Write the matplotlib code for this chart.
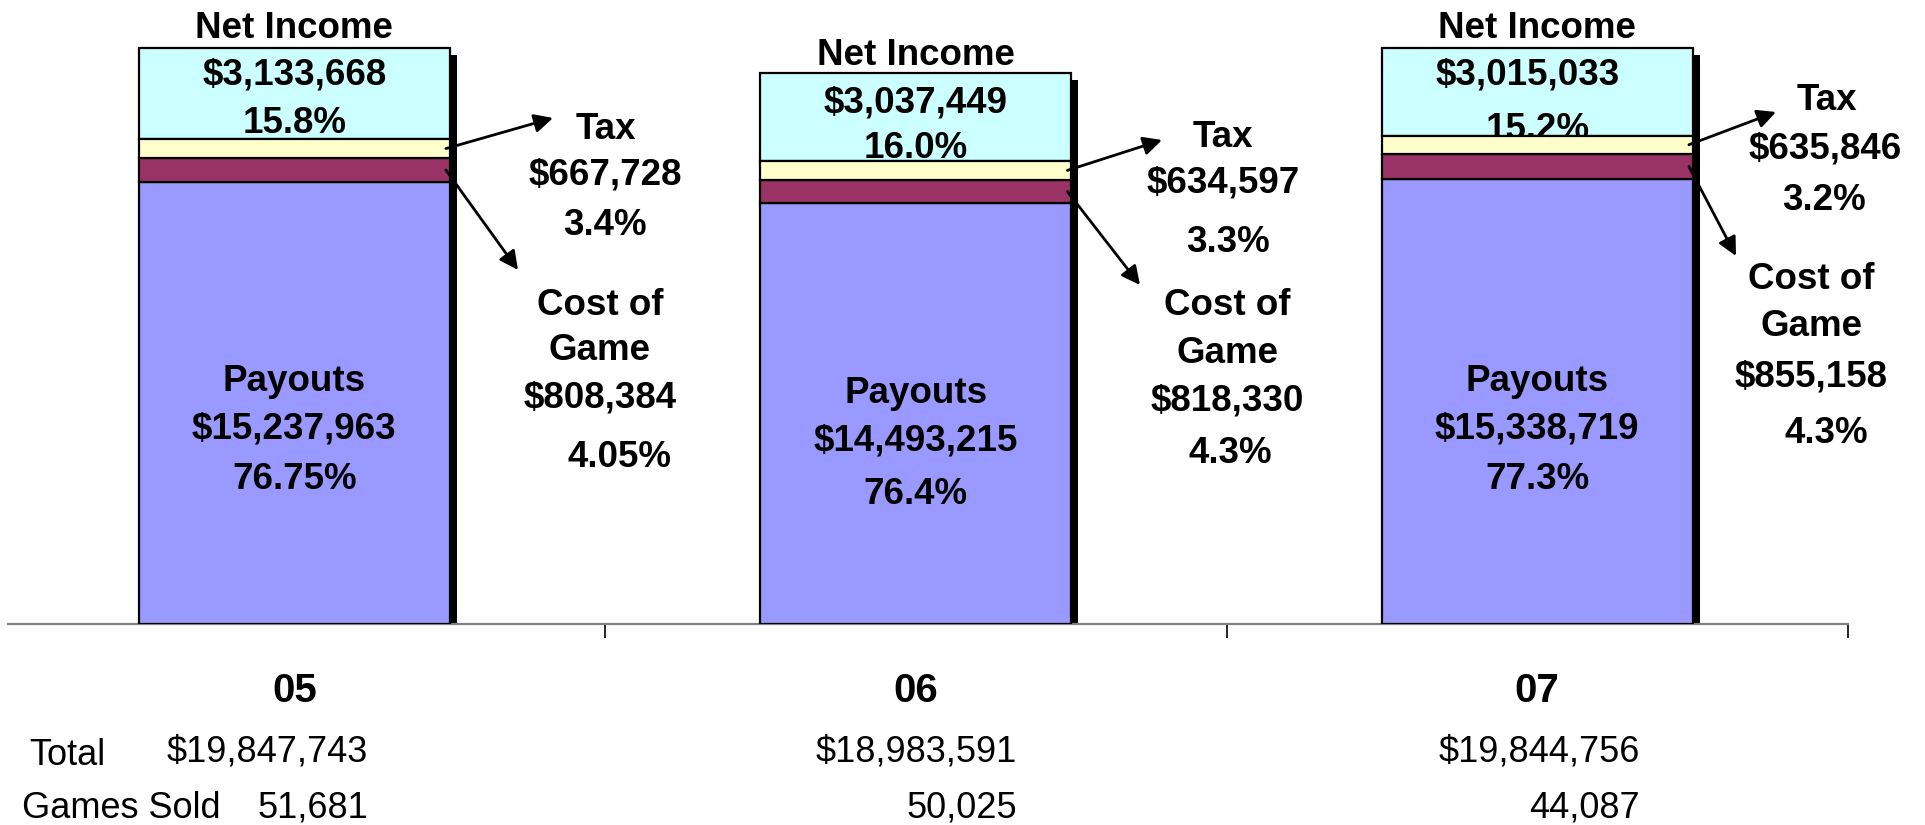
import matplotlib
matplotlib.use("Agg")
import matplotlib.pyplot as plt
from matplotlib import font_manager
from matplotlib.transforms import offset_copy, blended_transform_factory

# data
years = ["05", "06", "07"]
payouts = [15237963, 14493215, 15338719]
cost_of_game = [808384, 818330, 855158]
tax = [667728, 634597, 635846]
net_income = [3133668, 3037449, 3015033]
totals = [19847743, 18983591, 19844756]
games_sold = [51681, 50025, 44087]
pct_payouts = ["76.75%", "76.4%", "77.3%"]
pct_cost = ["4.05%", "4.3%", "4.3%"]
pct_tax = ["3.4%", "3.3%", "3.2%"]
pct_net = ["15.8%", "16.0%", "15.2%"]

W, H = 1925, 825
fig = plt.figure(figsize=(W / 100, H / 100), dpi=100)
ax = fig.add_axes([8 / W, (H - 624) / H, 1840 / W, 624 / H])

names = {f.name for f in font_manager.fontManager.ttflist}
bold_font = "Liberation Sans"
narrow_font = "Liberation Sans Narrow" if "Liberation Sans Narrow" in names else "Liberation Sans"
narrow_size = 30 if narrow_font == "Liberation Sans Narrow" else 26
lab = dict(family=bold_font, fontweight="bold", fontsize=26.5, color="black")

x = list(range(len(years)))
w = 0.5

# drop shadow behind each column
shadow = offset_copy(ax.transData, fig=fig, x=7, y=-7, units="dots")
ax.bar(x, totals, w, color="black", transform=shadow, zorder=1)

b1 = payouts
b2 = [p + c for p, c in zip(payouts, cost_of_game)]
b3 = [s + t for s, t in zip(b2, tax)]
ax.bar(x, payouts, w, color="#9999FF", edgecolor="black", lw=1.6, zorder=3)
ax.bar(x, cost_of_game, w, bottom=b1, color="#993366", edgecolor="black", lw=1.6, zorder=3)
ax.bar(x, tax, w, bottom=b2, color="#FFFFCC", edgecolor="black", lw=1.6, zorder=3)
ax.bar(x, net_income, w, bottom=b3, color="#CCFFFF", edgecolor="black", lw=1.6, zorder=2)

ax.set_xlim(2.5 - 1840 / 621.5, 2.5)
ax.set_ylim(0, 21.5e6)
for s in ["left", "right", "top"]:
    ax.spines[s].set_visible(False)
ax.spines["bottom"].set_color("#808080")
ax.spines["bottom"].set_linewidth(1.6)
ax.set_yticks([])
ax.set_xticks([0.5, 1.5, 2.5])
ax.set_xticklabels([])
ax.tick_params(axis="x", direction="out", length=10, width=1.2, color="black")

fx = blended_transform_factory(ax.transData, fig.transFigure)


def fy(y):
    return 1 - y / H


def put(px, py, s, ha="center", **kw):
    ax.text(px / W, fy(py), s, transform=fig.transFigure, ha=ha, va="baseline",
            clip_on=False, zorder=kw.pop("zorder", 5), **{**lab, **kw})


# labels inside / above the columns (baselines in pixels from top)
net_rows = [(38, 85, 133), (65, 112, 158), (38, 85, 139)]
net_dx = [0, 0, -0.016]
pay_rows = [(391, 439, 489), (403, 451, 504), (391, 439, 489)]
for i in x:
    a, b, c = net_rows[i]
    ax.text(i, fy(a), "Net Income", transform=fx, ha="center", va="baseline", zorder=5, **lab)
    ax.text(i + net_dx[i], fy(b), f"${net_income[i]:,}", transform=fx, ha="center", va="baseline", zorder=2.5, **lab)
    ax.text(i, fy(c), pct_net[i], transform=fx, ha="center", va="baseline", zorder=2.5, **lab)
    a, b, c = pay_rows[i]
    ax.text(i, fy(a), "Payouts", transform=fx, ha="center", va="baseline", zorder=5, **lab)
    ax.text(i, fy(b), f"${payouts[i]:,}", transform=fx, ha="center", va="baseline", zorder=5, **lab)
    ax.text(i, fy(c), pct_payouts[i], transform=fx, ha="center", va="baseline", zorder=5, **lab)

# side callouts: (x, baseline) for Tax, value, pct, Cost of, Game, value, pct
side = [
    [(606, 139), (605, 185), (605, 235), (600, 315), (600, 360), (600, 407), (620, 467)],
    [(1223, 147), (1223, 193), (1228, 252), (1227, 315), (1227, 363), (1227, 410), (1230, 463)],
    [(1827, 110), (1825, 158), (1824, 210), (1811, 289), (1811, 336), (1811, 386), (1826, 443)],
]
tips = [((553, 118), (518, 270)), ((1162, 140), (1140, 285)), ((1776, 112), (1736, 256))]
for i in x:
    texts = ["Tax", f"${tax[i]:,}", pct_tax[i], "Cost of", "Game", f"${cost_of_game[i]:,}", pct_cost[i]]
    for (px, py), s in zip(side[i], texts):
        put(px, py, s)
    edge = i + w / 2 - 0.006
    starts = [(edge, b2[i] + tax[i] / 2), (edge, b1[i] + cost_of_game[i] / 2)]
    for (sx, sy), (tx, ty) in zip(starts, tips[i]):
        ax.annotate("", xy=(tx, H - ty), xycoords="figure pixels",
                    xytext=(sx, sy), textcoords="data", zorder=6,
                    arrowprops=dict(arrowstyle="-|>", color="black", lw=2,
                                    mutation_scale=28, shrinkA=0, shrinkB=0))

# category labels and the table under the axis
for i in x:
    ax.text(i, fy(702), years[i], transform=fx, ha="center", va="baseline",
            family=narrow_font, fontweight="bold", fontsize=narrow_size + 3)

low = dict(family=narrow_font, fontweight="normal", fontsize=narrow_size)
put(29, 765, "Total", ha="left", **low)
put(22, 818, "Games Sold", ha="left", **low)
right_edges = [368, 1017, 1640]
for i in x:
    put(right_edges[i], 762, f"${totals[i]:,}", ha="right", **low)
    put(right_edges[i], 818, f"{games_sold[i]:,}", ha="right", **low)

fig.savefig("out.png", dpi=100)
